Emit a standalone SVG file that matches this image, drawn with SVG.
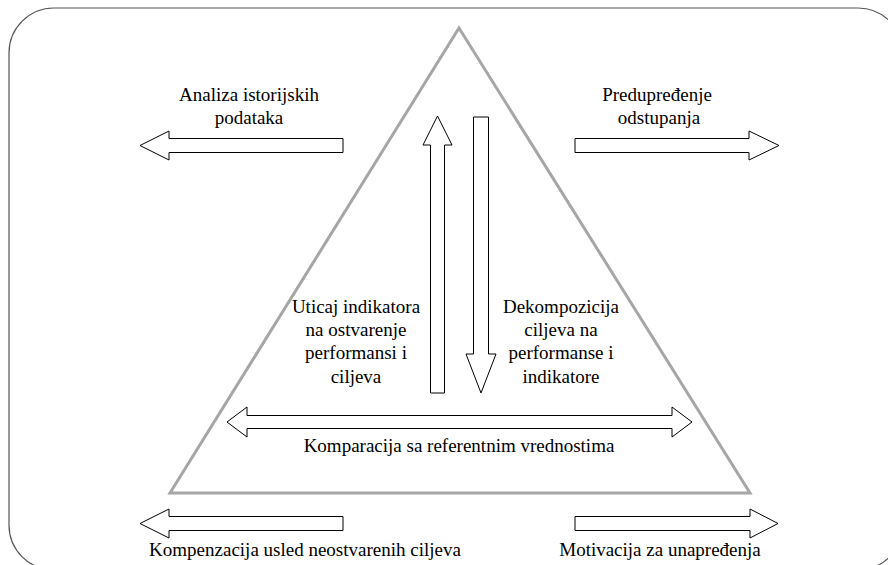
<svg xmlns="http://www.w3.org/2000/svg" width="888" height="565" viewBox="0 0 888 565">
  <style>
    .frame { fill: #ffffff; stroke: #555555; stroke-width: 1.2; }
    .tri { fill: none; stroke: #a6a6a6; stroke-width: 3; stroke-linejoin: miter; }
    .arrow { fill: #ffffff; stroke: #000000; stroke-width: 1; stroke-linejoin: miter; }
    .lbl { font-family: "Liberation Serif", "Times New Roman", "DejaVu Serif", serif; font-size: 19px; fill: #000000; text-anchor: middle; }
  </style>
  <rect width="888" height="565" fill="#ffffff"/>
  <rect class="frame" x="9" y="8" width="894" height="562" rx="45" ry="45"/>

  <g id="triangle">
    <polygon class="tri" points="459,28 170,493 750,493"/>
  </g>

  <g id="connectors">
    <polygon id="arrow-history" class="arrow" points="343,138.5 169,138.5 169,131 140,145.5 169,160 169,152.5 343,152.5"/>
    <polygon id="arrow-warning" class="arrow" points="575,138.5 749,138.5 749,131 779,145.5 749,160 749,152.5 575,152.5"/>
    <polygon id="arrow-up" class="arrow" points="430.5,393 430.5,145 423,145 437.5,116 452,145 444.5,145 444.5,393"/>
    <polygon id="arrow-down" class="arrow" points="473.5,117 488.5,117 488.5,354 496,354 481,393 466,354 473.5,354"/>
    <polygon id="arrow-compare" class="arrow" points="227,422 247,407 247,415.5 672,415.5 672,407 692,422 672,437 672,428.5 247,428.5 247,437"/>
    <polygon id="arrow-compensation" class="arrow" points="343,516.5 169,516.5 169,509 140,523.5 169,538 169,530.5 343,530.5"/>
    <polygon id="arrow-motivation" class="arrow" points="575,516.5 750,516.5 750,509 778,523.5 750,538 750,530.5 575,530.5"/>
  </g>

  <g id="node-history">
    <text class="lbl" x="249" y="101">Analiza istorijskih</text>
    <text class="lbl" x="249" y="124">podataka</text>
  </g>
  <g id="node-warning">
    <text class="lbl" x="657" y="101">Predupređenje</text>
    <text class="lbl" x="659" y="124">odstupanja</text>
  </g>
  <g id="node-influence">
    <text class="lbl" x="356" y="313">Uticaj indikatora</text>
    <text class="lbl" x="356" y="336">na ostvarenje</text>
    <text class="lbl" x="356" y="359">performansi i</text>
    <text class="lbl" x="356" y="383">ciljeva</text>
  </g>
  <g id="node-decomposition">
    <text class="lbl" x="561" y="313">Dekompozicija</text>
    <text class="lbl" x="561" y="336">ciljeva na</text>
    <text class="lbl" x="561" y="359">performanse i</text>
    <text class="lbl" x="561" y="383">indikatore</text>
  </g>
  <g id="node-compare">
    <text class="lbl" x="459" y="452">Komparacija sa referentnim vrednostima</text>
  </g>
  <g id="node-compensation">
    <text class="lbl" x="305" y="556">Kompenzacija usled neostvarenih ciljeva</text>
  </g>
  <g id="node-motivation">
    <text class="lbl" x="660" y="556">Motivacija za unapređenja</text>
  </g>
</svg>
